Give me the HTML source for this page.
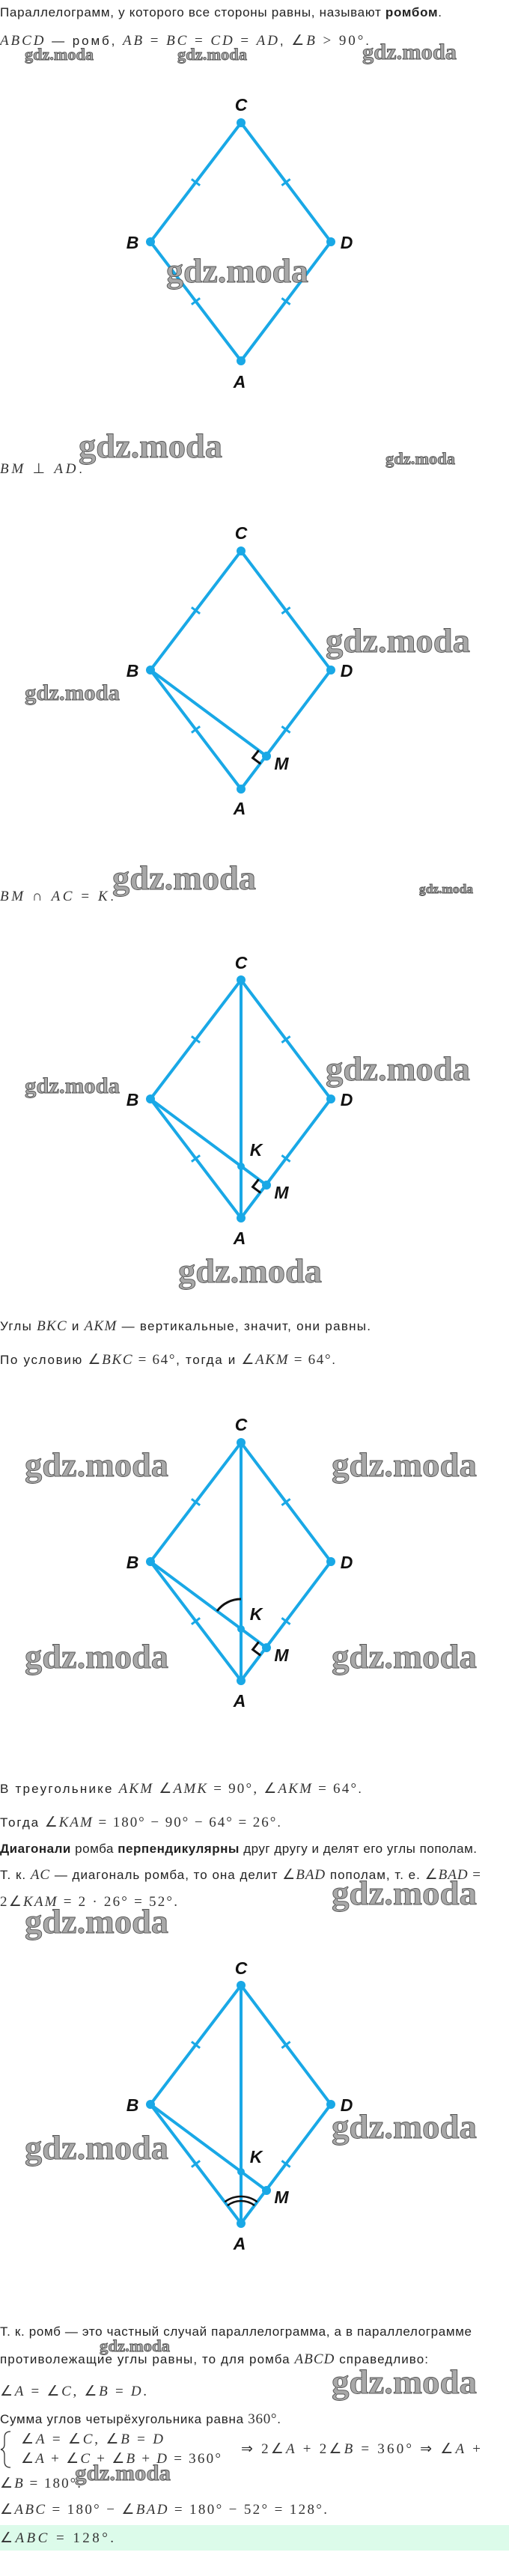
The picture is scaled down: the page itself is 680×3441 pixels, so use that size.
<!DOCTYPE html>
<html><head><meta charset="utf-8"><style>
html,body{margin:0;padding:0;background:#fff;}
svg{display:block}
.t{font-family:"Liberation Sans",sans-serif;font-size:17px;fill:#222}
.m{font-family:"Liberation Serif",serif;font-style:italic;font-size:19px;fill:#333}
.n{font-family:"Liberation Serif",serif;font-style:normal;font-size:19px;fill:#333}
.b{font-weight:bold}
.lb{font-family:"Liberation Sans",sans-serif;font-weight:bold;font-style:italic;font-size:23px;fill:#111;text-anchor:middle}
.w{font-family:"Liberation Serif",serif;font-weight:bold;fill:#a8a8a8;stroke:#555;stroke-width:0.9}
.s{stroke:#19a8e6;stroke-width:4;fill:none;stroke-linecap:round}
.tk{stroke:#19a8e6;stroke-width:3;fill:none}
.d{fill:#19a8e6}
</style></head><body>
<svg width="680" height="3441" viewBox="0 0 680 3441" xmlns="http://www.w3.org/2000/svg">
<defs>
<g id="rh">
<polyline class="s" points="0,318 -121,159 0,0 120,159 0,318"/>
<line class="tk" x1="-66.1" y1="75.3" x2="-54.9" y2="83.7"/>
<line class="tk" x1="54.4" y1="83.7" x2="65.6" y2="75.3"/>
<line class="tk" x1="-66.1" y1="242.7" x2="-54.9" y2="234.3"/>
<line class="tk" x1="54.4" y1="234.3" x2="65.6" y2="242.7"/>
</g>
</defs>

<text class="t" x="0" y="22" textLength="590" lengthAdjust="spacing">Параллелограмм, у которого все стороны равны, называют <tspan class="b">ромбом</tspan>.</text>
<text class="t" x="0" y="60" textLength="493" lengthAdjust="spacing"><tspan class="m">ABCD</tspan> — ромб, <tspan class="m">AB</tspan><tspan class="n"> = </tspan><tspan class="m">BC</tspan><tspan class="n"> = </tspan><tspan class="m">CD</tspan><tspan class="n"> = </tspan><tspan class="m">AD</tspan>, <tspan class="n">∠</tspan><tspan class="m">B</tspan><tspan class="n"> &gt; 90°</tspan>.</text>

<g transform="translate(322,164)">
<use href="#rh"/>
<circle class="d" cx="0" cy="0" r="6"/><circle class="d" cx="-121" cy="159" r="6"/><circle class="d" cx="120" cy="159" r="6"/><circle class="d" cx="0" cy="318" r="6"/>
<text class="lb" x="0" y="-16">C</text><text class="lb" x="-145" y="168">B</text><text class="lb" x="141" y="168">D</text><text class="lb" x="-2" y="354">A</text>
</g>

<text class="t" x="0" y="632" textLength="110" lengthAdjust="spacing"><tspan class="m">BM</tspan><tspan class="n"> ⊥ </tspan><tspan class="m">AD</tspan>.</text>

<g transform="translate(322,736)">
<use href="#rh"/>
<line class="s" x1="-121" y1="159" x2="34" y2="274"/>
<polyline points="23.6,266.3 15.6,276.5 26.1,284.3" fill="none" stroke="#111" stroke-width="3"/>
<circle class="d" cx="0" cy="0" r="6"/><circle class="d" cx="-121" cy="159" r="6"/><circle class="d" cx="120" cy="159" r="6"/><circle class="d" cx="0" cy="318" r="6"/><circle class="d" cx="34" cy="274" r="6"/>
<text class="lb" x="0" y="-16">C</text><text class="lb" x="-145" y="168">B</text><text class="lb" x="141" y="168">D</text><text class="lb" x="-2" y="352">A</text><text class="lb" x="54" y="292">M</text>
</g>

<text class="t" x="0" y="1203" textLength="152" lengthAdjust="spacing"><tspan class="m">BM</tspan><tspan class="n"> ∩ </tspan><tspan class="m">AC</tspan><tspan class="n"> = </tspan><tspan class="m">K</tspan>.</text>

<g transform="translate(322,1309)">
<use href="#rh"/>
<line class="s" x1="0" y1="0" x2="0" y2="318"/>
<line class="s" x1="-121" y1="159" x2="34" y2="274"/>
<polyline points="23.6,266.3 15.6,276.5 26.1,284.3" fill="none" stroke="#111" stroke-width="3"/>
<circle class="d" cx="0" cy="0" r="6"/><circle class="d" cx="-121" cy="159" r="6"/><circle class="d" cx="120" cy="159" r="6"/><circle class="d" cx="0" cy="318" r="6"/><circle class="d" cx="34" cy="274" r="6"/><circle class="d" cx="0" cy="249" r="5"/>
<text class="lb" x="0" y="-15">C</text><text class="lb" x="-145" y="168">B</text><text class="lb" x="141" y="168">D</text><text class="lb" x="-2" y="353">A</text><text class="lb" x="54" y="292">M</text><text class="lb" x="20" y="235">K</text>
</g>

<text class="t" x="0" y="1777" textLength="495" lengthAdjust="spacing">Углы <tspan class="m">BKC</tspan> и <tspan class="m">AKM</tspan> — вертикальные, значит, они равны.</text>
<text class="t" x="0" y="1822" textLength="448" lengthAdjust="spacing">По условию <tspan class="n">∠</tspan><tspan class="m">BKC</tspan><tspan class="n"> = 64°</tspan>, тогда и <tspan class="n">∠</tspan><tspan class="m">AKM</tspan><tspan class="n"> = 64°</tspan>.</text>

<g transform="translate(322,1927)">
<use href="#rh"/>
<line class="s" x1="0" y1="0" x2="0" y2="318"/>
<line class="s" x1="-121" y1="159" x2="34" y2="274"/>
<path d="M -32 225 A 40 40 0 0 1 0 209" fill="none" stroke="#111" stroke-width="3"/>
<polyline points="23.6,266.3 15.6,276.5 26.1,284.3" fill="none" stroke="#111" stroke-width="3"/>
<circle class="d" cx="0" cy="0" r="6"/><circle class="d" cx="-121" cy="159" r="6"/><circle class="d" cx="120" cy="159" r="6"/><circle class="d" cx="0" cy="318" r="6"/><circle class="d" cx="34" cy="274" r="6"/><circle class="d" cx="0" cy="249" r="5"/>
<text class="lb" x="0" y="-16">C</text><text class="lb" x="-145" y="168">B</text><text class="lb" x="141" y="168">D</text><text class="lb" x="-2" y="353">A</text><text class="lb" x="54" y="292">M</text><text class="lb" x="20" y="237">K</text>
</g>

<text class="t" x="0" y="2395" textLength="483" lengthAdjust="spacing">В треугольнике <tspan class="m">AKM</tspan> <tspan class="n">∠</tspan><tspan class="m">AMK</tspan><tspan class="n"> = 90°, ∠</tspan><tspan class="m">AKM</tspan><tspan class="n"> = 64°</tspan>.</text>
<text class="t" x="0" y="2440" textLength="375" lengthAdjust="spacing">Тогда <tspan class="n">∠</tspan><tspan class="m">KAM</tspan><tspan class="n"> = 180° − 90° − 64° = 26°</tspan>.</text>
<text class="t" x="0" y="2475" textLength="637" lengthAdjust="spacing"><tspan class="b">Диагонали</tspan> ромба <tspan class="b">перпендикулярны</tspan> друг другу и делят его углы пополам.</text>
<text class="t" x="0" y="2510" textLength="642" lengthAdjust="spacing">Т. к. <tspan class="m">AC</tspan> — диагональ ромба, то она делит <tspan class="n">∠</tspan><tspan class="m">BAD</tspan> пополам, т. е. <tspan class="n">∠</tspan><tspan class="m">BAD</tspan><tspan class="n"> =</tspan></text>
<text class="n" x="0" y="2546" textLength="237" lengthAdjust="spacing">2∠<tspan class="m">KAM</tspan> = 2 · 26° = 52°.</text>

<g transform="translate(322,2652)">
<use href="#rh"/>
<line class="s" x1="0" y1="0" x2="0" y2="318"/>
<line class="s" x1="-121" y1="159" x2="34" y2="274"/>
<path d="M -18.1 294.1 A 30 30 0 0 1 18 294" fill="none" stroke="#111" stroke-width="2.5"/>
<path d="M -21.7 289.3 A 36 36 0 0 1 21.6 289.2" fill="none" stroke="#111" stroke-width="2.5"/>
<circle class="d" cx="0" cy="0" r="6"/><circle class="d" cx="-121" cy="159" r="6"/><circle class="d" cx="120" cy="159" r="6"/><circle class="d" cx="0" cy="318" r="6"/><circle class="d" cx="34" cy="274" r="6"/><circle class="d" cx="0" cy="249" r="5"/>
<text class="lb" x="0" y="-15">C</text><text class="lb" x="-145" y="168">B</text><text class="lb" x="141" y="168">D</text><text class="lb" x="-2" y="353">A</text><text class="lb" x="54" y="291">M</text><text class="lb" x="20" y="237">K</text>
</g>

<text class="t" x="0" y="3120" textLength="630" lengthAdjust="spacing">Т. к. ромб — это частный случай параллелограмма, а в параллелограмме</text>
<text class="t" x="0" y="3157" textLength="572" lengthAdjust="spacing">противолежащие углы равны, то для ромба <tspan class="m">ABCD</tspan> справедливо:</text>
<text class="n" x="0" y="3200" textLength="196" lengthAdjust="spacing">∠<tspan class="m">A</tspan> = ∠<tspan class="m">C</tspan>, ∠<tspan class="m">B</tspan> = <tspan class="m">D</tspan>.</text>
<text class="t" x="0" y="3237" textLength="375" lengthAdjust="spacing">Сумма углов четырёхугольника равна <tspan class="n">360°</tspan>.</text>
<path d="M 14 3248 Q 6 3248 6 3256 L 6 3265 Q 6 3271 1 3272 Q 6 3273 6 3279 L 6 3288 Q 6 3296 14 3296" fill="none" stroke="#333" stroke-width="1.3"/>
<text class="n" x="28" y="3264" textLength="190" lengthAdjust="spacing">∠<tspan class="m">A</tspan> = ∠<tspan class="m">C</tspan>, ∠<tspan class="m">B</tspan> = <tspan class="m">D</tspan></text>
<text class="n" x="28" y="3290" textLength="267" lengthAdjust="spacing">∠<tspan class="m">A</tspan> + ∠<tspan class="m">C</tspan> + ∠<tspan class="m">B</tspan> + <tspan class="m">D</tspan> = 360°</text>
<text class="n" x="322" y="3277" textLength="320" lengthAdjust="spacing">⇒ 2∠<tspan class="m">A</tspan> + 2∠<tspan class="m">B</tspan> = 360° ⇒ ∠<tspan class="m">A</tspan> +</text>
<text class="n" x="0" y="3323" textLength="108" lengthAdjust="spacing">∠<tspan class="m">B</tspan> = 180°.</text>
<text class="n" x="0" y="3358" textLength="437" lengthAdjust="spacing">∠<tspan class="m">ABC</tspan> = 180° − ∠<tspan class="m">BAD</tspan> = 180° − 52° = 128°.</text>
<rect x="0" y="3373" width="680" height="34" fill="#dcfbea"/>
<text class="n" x="0" y="3396" textLength="152" lengthAdjust="spacing">∠<tspan class="m">ABC</tspan> = 128°.</text>

<g class="w">
<text x="33" y="80" font-size="22" textLength="92" lengthAdjust="spacingAndGlyphs">gdz.moda</text>
<text x="237" y="80" font-size="22" textLength="93" lengthAdjust="spacingAndGlyphs">gdz.moda</text>
<text x="484" y="79" font-size="30" textLength="126" lengthAdjust="spacingAndGlyphs">gdz.moda</text>
<text x="222" y="377" font-size="46" textLength="190" lengthAdjust="spacingAndGlyphs">gdz.moda</text>
<text x="105" y="611" font-size="46" textLength="192" lengthAdjust="spacingAndGlyphs">gdz.moda</text>
<text x="515" y="620" font-size="22" textLength="93" lengthAdjust="spacingAndGlyphs">gdz.moda</text>
<text x="435" y="871" font-size="46" textLength="193" lengthAdjust="spacingAndGlyphs">gdz.moda</text>
<text x="33" y="935" font-size="30" textLength="127" lengthAdjust="spacingAndGlyphs">gdz.moda</text>
<text x="150" y="1188" font-size="46" textLength="192" lengthAdjust="spacingAndGlyphs">gdz.moda</text>
<text x="560" y="1193" font-size="17" textLength="72" lengthAdjust="spacingAndGlyphs">gdz.moda</text>
<text x="33" y="1460" font-size="30" textLength="127" lengthAdjust="spacingAndGlyphs">gdz.moda</text>
<text x="435" y="1443" font-size="46" textLength="193" lengthAdjust="spacingAndGlyphs">gdz.moda</text>
<text x="238" y="1713" font-size="46" textLength="192" lengthAdjust="spacingAndGlyphs">gdz.moda</text>
<text x="33" y="1972" font-size="46" textLength="192" lengthAdjust="spacingAndGlyphs">gdz.moda</text>
<text x="443" y="1972" font-size="46" textLength="194" lengthAdjust="spacingAndGlyphs">gdz.moda</text>
<text x="33" y="2228" font-size="46" textLength="192" lengthAdjust="spacingAndGlyphs">gdz.moda</text>
<text x="443" y="2228" font-size="46" textLength="194" lengthAdjust="spacingAndGlyphs">gdz.moda</text>
<text x="443" y="2544" font-size="46" textLength="194" lengthAdjust="spacingAndGlyphs">gdz.moda</text>
<text x="33" y="2582" font-size="46" textLength="192" lengthAdjust="spacingAndGlyphs">gdz.moda</text>
<text x="443" y="2856" font-size="46" textLength="194" lengthAdjust="spacingAndGlyphs">gdz.moda</text>
<text x="33" y="2884" font-size="46" textLength="192" lengthAdjust="spacingAndGlyphs">gdz.moda</text>
<text x="133" y="3141" font-size="22" textLength="94" lengthAdjust="spacingAndGlyphs">gdz.moda</text>
<text x="443" y="3197" font-size="46" textLength="194" lengthAdjust="spacingAndGlyphs">gdz.moda</text>
<text x="100" y="3313" font-size="30" textLength="128" lengthAdjust="spacingAndGlyphs">gdz.moda</text>
</g>
</svg>
</body></html>
